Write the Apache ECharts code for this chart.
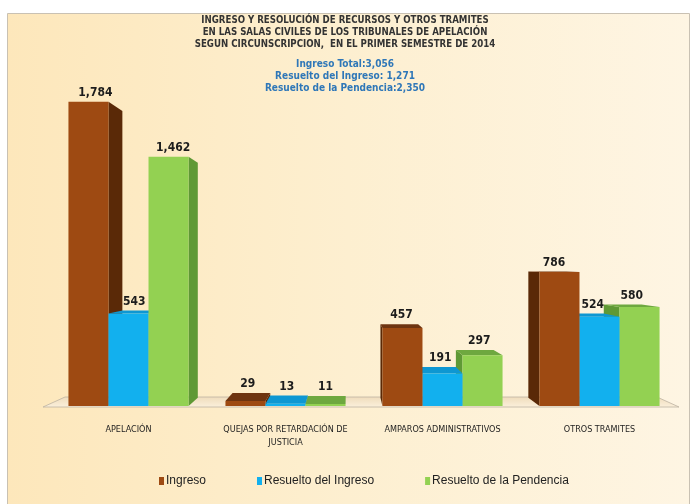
<!DOCTYPE html>
<html>
<head>
<meta charset="utf-8">
<script src="https://cdn.jsdelivr.net/npm/echarts@6/dist/echarts.min.js"></script>
<style>
  html, body { margin: 0; padding: 0; background: #fff; }
  #chart { width: 690px; height: 504px; }
</style>
</head>
<body>
<div id="chart"></div>
<script>
// datos
var categorias = ['APELACIÓN', 'QUEJAS POR RETARDACIÓN DE\nJUSTICIA', 'AMPAROS ADMINISTRATIVOS', 'OTROS TRAMITES'];
var ingreso = [1784, 29, 457, 786];
var resueltoIngreso = [543, 13, 191, 524];
var resueltoPendencia = [1462, 11, 297, 580];
var nombres = ['Ingreso', 'Resuelto del Ingreso', 'Resuelto de la Pendencia'];
var resumen = ['Ingreso Total:3,056', 'Resuelto del Ingreso: 1,271', 'Resuelto de la Pendencia:2,350'];

var colores = [
  { front: '#9e4a12', side: '#5a2907', top: '#6e3410' },
  { front: '#12b0ee', side: '#0b86bd', top: '#0e97d2' },
  { front: '#93d152', side: '#5f9935', top: '#6ea83f' }
];
var NARROW = "'Liberation Sans Narrow', 'DejaVu Sans Condensed', sans-serif";

// punto de fuga para el efecto 3D
var VP = [348, 262];
var PROF = 0.058;

function fondo(p) {
  return [p[0] + PROF * (VP[0] - p[0]), p[1] + PROF * (VP[1] - p[1])];
}

function makeRender(s) {
  return function (params, api) {
    var cat = api.value(0);
    var val = api.value(1);
    var b = api.coord([cat, 0]);
    var t = api.coord([cat, val]);
    var band = api.size([1, 0])[0];
    var w = band * 0.255;
    var xl = b[0] - 1.5 * w + s * w;
    var xr = xl + w;
    var yt = t[1], yb = b[1];
    var c = colores[s];
    var lt = fondo([xl, yt]), rt = fondo([xr, yt]);
    var lb = fondo([xl, yb]), rb = fondo([xr, yb]);
    var orden = ((xl + xr) / 2 < VP[0]) ? s : 2 - s;
    var kids = [];

    if (xr < VP[0]) {
      kids.push({ type: 'polygon', z2: orden * 3,
        shape: { points: [[xr, yt], rt, rb, [xr, yb]] },
        style: { fill: c.side } });
    } else if (xl > VP[0]) {
      kids.push({ type: 'polygon', z2: orden * 3,
        shape: { points: [[xl, yt], lt, lb, [xl, yb]] },
        style: { fill: c.side } });
    }
    if (yt > VP[1]) {
      kids.push({ type: 'polygon', z2: orden * 3 + 1,
        shape: { points: [[xl, yt], [xr, yt], rt, lt] },
        style: { fill: c.top } });
    }
    kids.push({ type: 'rect', z2: orden * 3 + 2,
      shape: { x: xl, y: yt, width: w, height: yb - yt },
      style: { fill: c.front } });

    var shift = (xr < VP[0]) ? (rt[0] - xr) / 2 : (xl > VP[0] ? (lt[0] - xl) / 2 : 0);
    kids.push({ type: 'text', z2: 100,
      style: {
        text: val.toLocaleString('en-US'),
        x: (xl + xr) / 2 + shift,
        y: Math.min(yt, lt[1]) - 3,
        align: 'center', verticalAlign: 'bottom',
        fill: '#1c1c1c', font: 'bold 12px ' + NARROW
      } });
    return { type: 'group', children: kids };
  };
}

var valores = [ingreso, resueltoIngreso, resueltoPendencia];
var series = valores.map(function (arr, s) {
  return {
    name: nombres[s],
    type: 'custom',
    renderItem: makeRender(s),
    itemStyle: { color: colores[s].front },
    encode: { x: 0, y: 1 },
    data: arr.map(function (v, i) { return [i, v]; })
  };
});

var myChart = echarts.init(document.getElementById('chart'));
myChart.setOption({
  backgroundColor: '#fff',
  animation: false,
  graphic: [
    {
      type: 'rect', z: -10,
      shape: { x: 7.5, y: 13.5, width: 682, height: 492 },
      style: {
        stroke: '#c9c1b3', lineWidth: 1,
        fill: {
          type: 'linear', x: 0, y: 0, x2: 1, y2: 0,
          colorStops: [
            { offset: 0, color: '#fde7bb' },
            { offset: 0.5, color: '#fdefd0' },
            { offset: 1, color: '#fef5e3' }
          ]
        }
      }
    },
    {
      // piso del grafico
      type: 'polygon', z: -5,
      shape: { points: [[43, 407], [679, 407], [657, 397], [65, 397]] },
      style: {
        stroke: '#bdb3a2', lineWidth: 0.8,
        fill: {
          type: 'linear', x: 0, y: 0, x2: 0, y2: 1,
          colorStops: [
            { offset: 0, color: '#efdcbb' },
            { offset: 1, color: '#fbf0dc' }
          ]
        }
      }
    }
  ],
  title: [
    {
      text: 'INGRESO Y RESOLUCIÓN DE RECURSOS Y OTROS TRAMITES\nEN LAS SALAS CIVILES DE LOS TRIBUNALES DE APELACIÓN\nSEGUN CIRCUNSCRIPCION,  EN EL PRIMER SEMESTRE DE 2014',
      left: 'center', top: 9,
      textStyle: { fontFamily: NARROW, fontWeight: 'bold', fontSize: 9.6, lineHeight: 12, color: '#333' }
    },
    {
      text: resumen.join('\n'),
      left: 'center', top: 53,
      textStyle: { fontFamily: NARROW, fontWeight: 'bold', fontSize: 10, lineHeight: 12, color: '#2f77b8' }
    }
  ],
  legend: {
    bottom: 12, left: 154,
    icon: 'rect', itemWidth: 5, itemHeight: 8, itemGap: 51,
    textStyle: { fontFamily: 'Liberation Sans, Arial, sans-serif', fontSize: 12, color: '#222', padding: [0, 0, 0, -3] },
    data: nombres
  },
  grid: { left: 50, right: 12, top: 65, bottom: 98 },
  xAxis: {
    type: 'category',
    data: categorias,
    axisLine: { show: false },
    axisTick: { show: false },
    axisLabel: { margin: 17, fontFamily: NARROW, fontSize: 9, lineHeight: 13, color: '#1e1e1e', interval: 0 }
  },
  yAxis: { type: 'value', min: 0, max: 2000, show: false },
  series: series
});
</script>
</body>
</html>
